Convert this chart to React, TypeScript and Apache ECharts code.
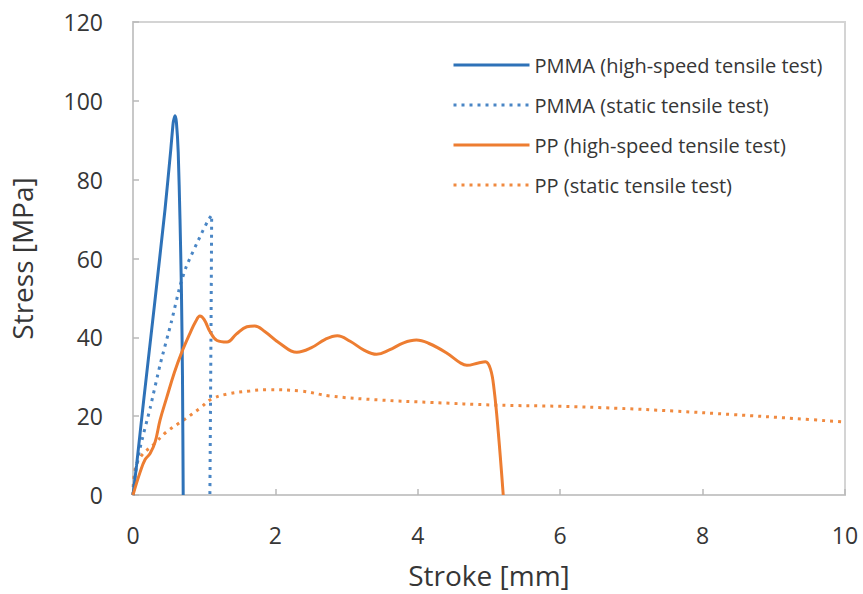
import React, { useEffect, useRef } from "react";
import * as echarts from "echarts";

const xTicks = { min: 0, max: 10, interval: 2 };
const yTicks = { min: 0, max: 120, interval: 20 };

const seriesNames = [
  "PMMA (high-speed tensile test)",
  "PMMA (static tensile test)",
  "PP (high-speed tensile test)",
  "PP (static tensile test)",
];

const pmmaHigh: number[][] = [
  [0, 0], [0.05, 7.5], [0.15, 24], [0.3, 48], [0.45, 72.5], [0.53, 87.5],
  [0.565, 94.5], [0.59, 96.2], [0.61, 94.5], [0.635, 87], [0.66, 70], [0.68, 52],
  [0.695, 30], [0.705, 0],
];

const pmmaStatic: number[][] = [
  [0, 0], [0.03, 5], [0.1, 12], [0.24, 22], [0.38, 33], [0.54, 44], [0.66, 53],
  [0.75, 58], [0.94, 65.5], [1.05, 69.5], [1.105, 71], [1.095, 40], [1.08, 0],
];

const ppHigh: number[][] = [
  [0, 0], [0.1, 5.8], [0.17, 9], [0.24, 10.5], [0.31, 13.4], [0.38, 19], [0.47, 24.5],
  [0.58, 31], [0.68, 36], [0.8, 41], [0.88, 44], [0.94, 45.4], [1.0, 44.5], [1.08, 41.5],
  [1.18, 39.2], [1.32, 38.8], [1.45, 40.8], [1.6, 42.7], [1.71, 42.9], [1.85, 41.5],
  [2.06, 38.5], [2.3, 36.2], [2.5, 37.3], [2.7, 39.5], [2.87, 40.4], [3.05, 39],
  [3.25, 36.7], [3.42, 35.7], [3.6, 36.8], [3.8, 38.6], [3.98, 39.3], [4.15, 38.5],
  [4.4, 36.1], [4.6, 33.5], [4.69, 32.9], [4.85, 33.5], [4.95, 33.8], [5.02, 32],
  [5.07, 27], [5.13, 16], [5.2, 0],
];

const ppStatic: number[][] = [
  [0, 0], [0.02, 5.5], [0.1, 9.5], [0.3, 13], [0.47, 16], [0.71, 19], [0.94, 22],
  [1.1, 24.3], [1.32, 25.6], [1.64, 26.4], [1.88, 26.7], [2.35, 26.4], [2.77, 25.1],
  [3.47, 24.1], [4.17, 23.5], [5.11, 22.8], [6.0, 22.5], [6.8, 22.0], [7.6, 21.3],
  [8.43, 20.4], [9.3, 19.4], [10, 18.5],
];

const blue = "#2e72b8";
const blueDot = "#4a86c5";
const orange = "#ed7d31";
const orangeDot = "#f08a40";
const font = "'Open Sans', 'Noto Sans', sans-serif";
const textColor = "#363636";

export default function App() {
  const ref = useRef<HTMLDivElement>(null);
  useEffect(() => {
    if (!ref.current) return;
    const chart = echarts.init(ref.current, null, { renderer: "svg" });
    const dotted = [3, 5];
    chart.setOption({
      animation: false,
      backgroundColor: "#ffffff",
      textStyle: { fontFamily: font },
      grid: {
        left: 133,
        right: 18,
        top: 22,
        bottom: 98,
        show: true,
        borderColor: "#d4d4d4",
        borderWidth: 2,
      },
      legend: {
        orient: "vertical",
        left: 447,
        top: 50,
        itemWidth: 76,
        itemHeight: 20,
        itemGap: 20,
        itemStyle: { opacity: 0 },
        lineStyle: { width: 3 },
        textStyle: { fontFamily: font, fontSize: 20, color: textColor },
        data: seriesNames,
      },
      xAxis: {
        type: "value",
        min: xTicks.min,
        max: xTicks.max,
        interval: xTicks.interval,
        name: "Stroke [mm]",
        nameLocation: "middle",
        nameGap: 66,
        nameTextStyle: { fontFamily: font, fontSize: 28, color: textColor },
        axisLine: { lineStyle: { color: "#c8c8c8", width: 2 } },
        axisTick: { inside: true, length: 6, lineStyle: { color: "#b8b8b8", width: 1.5 } },
        axisLabel: { fontFamily: font, fontSize: 23, color: textColor, margin: 28 },
        splitLine: { show: false },
      },
      yAxis: {
        type: "value",
        min: yTicks.min,
        max: yTicks.max,
        interval: yTicks.interval,
        name: "Stress [MPa]",
        nameLocation: "middle",
        nameGap: 97,
        nameTextStyle: { fontFamily: font, fontSize: 28, color: textColor },
        axisLine: { lineStyle: { color: "#c8c8c8", width: 2 } },
        axisTick: { inside: true, length: 6, lineStyle: { color: "#b8b8b8", width: 1.5 } },
        axisLabel: { fontFamily: font, fontSize: 23, color: textColor, margin: 30 },
        splitLine: { show: false },
      },
      series: [
        {
          name: seriesNames[0],
          type: "line",
          data: pmmaHigh,
          showSymbol: false,
          symbol: "none",
          smooth: 0.2,
          color: blue,
          lineStyle: { color: blue, width: 3 },
          z: 4,
        },
        {
          name: seriesNames[1],
          type: "line",
          data: pmmaStatic,
          showSymbol: false,
          symbol: "none",
          smooth: 0.2,
          color: blueDot,
          lineStyle: { color: blueDot, width: 3, type: dotted },
          z: 3,
        },
        {
          name: seriesNames[2],
          type: "line",
          data: ppHigh,
          showSymbol: false,
          symbol: "none",
          smooth: 0.4,
          color: orange,
          lineStyle: { color: orange, width: 3 },
          z: 5,
        },
        {
          name: seriesNames[3],
          type: "line",
          data: ppStatic,
          showSymbol: false,
          symbol: "none",
          smooth: 0.4,
          color: orangeDot,
          lineStyle: { color: orangeDot, width: 3, type: dotted },
          z: 2,
        },
      ],
    });
    return () => chart.dispose();
  }, []);
  return <div ref={ref} style={{ width: 863, height: 594, position: "absolute", left: 0, top: 0 }} />;
}
